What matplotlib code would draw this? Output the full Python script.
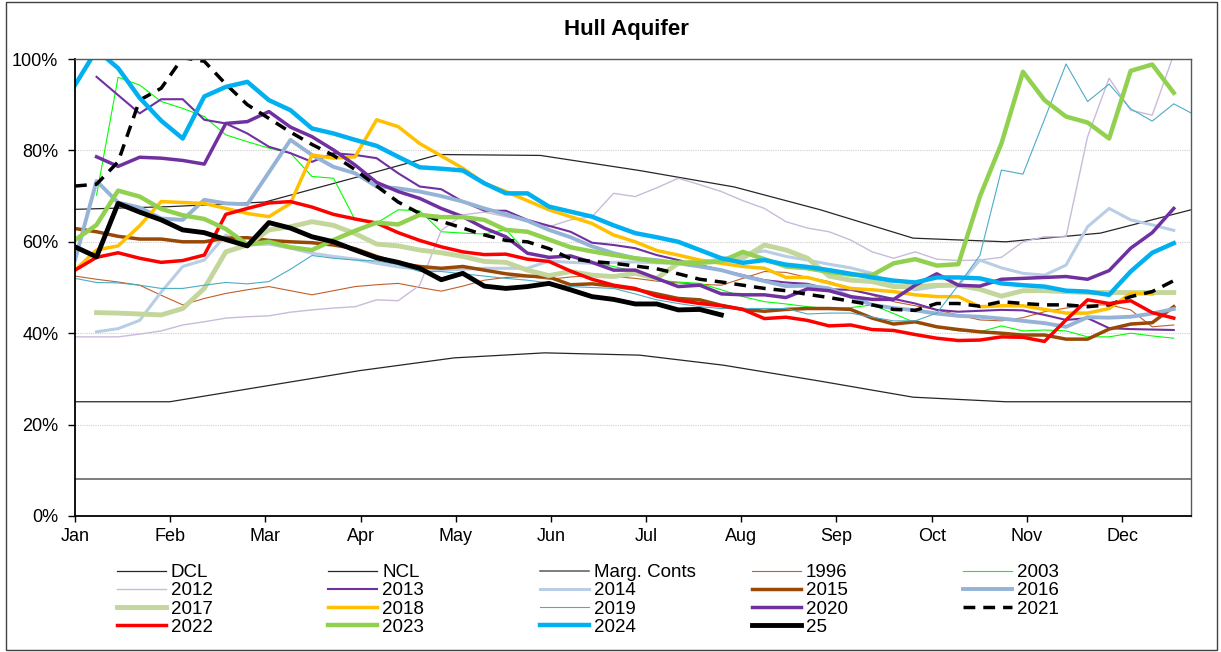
import numpy as np
import matplotlib.pyplot as plt

plt.rcParams['font.family'] = ['Liberation Sans', 'DejaVu Sans']

nan = np.nan

# x axis: weekly readings, month labels evenly spaced
months = ['Jan', 'Feb', 'Mar', 'Apr', 'May', 'Jun', 'Jul', 'Aug', 'Sep', 'Oct', 'Nov', 'Dec']
month_step = 4.418
x_end = 51.8

# control curves (week, %)
dcl_week = [0, 4.4, 8.8, 13.2, 17.6, 21.8, 26.2, 30.1, 34.6, 38.9, 43.2, 51.8]
dcl = [25, 25, 28.4, 31.8, 34.6, 35.7, 35.2, 33.0, 29.5, 26.0, 25.0, 25.0]
ncl_week = [0, 4.41, 8.82, 13.2, 16.9, 21.6, 26.2, 30.6, 34.6, 38.9, 43.2, 47.6, 51.8]
ncl = [67.1, 67.7, 68.7, 74.3, 79.1, 78.9, 75.6, 72.0, 67.0, 60.8, 60.0, 61.9, 67.0]
marg_week = [0, 51.8]
marg = [8.1, 8.1]

# yearly series, one value per week from week 0
y1996 = [52.5, 51.8, 51.2, 50.5, 48.3, 46.2, 47.6, 48.7, 49.5, 50.2,
         49.3, 48.4, 49.3, 50.2, 50.6, 50.9, 50.0, 49.2, 50.3, 51.6,
         52.2, 52.4, 51.8, 52.3, 52.6, 52.4, 52.0, 51.4, 51.0, 50.7,
         50.5, 52.0, 53.5, 53.3, 52.2, 51.3, 49.6, 48.3, 46.9, 46.0,
         45.1, 44.0, 42.9, 42.7, 43.4, 44.7, 45.5, 46.2, 46.2, 45.1,
         41.4, 41.8]
y2003 = [nan, 70.2, 96.0, 94.3, 90.7, 89.2, 87.4, 83.4, 81.9, 80.5,
         79.4, 74.3, 73.9, 64.8, 64.1, 67.0, 66.8, 62.2, 61.9, 61.7,
         62.7, 57.5, 56.4, 57.1, 55.5, 54.6, 53.5, 51.6, 51.2, 50.9,
         49.5, 48.0, 46.9, 46.4, 45.8, 45.4, 45.6, 46.2, 44.3, 42.3,
         41.3, 40.5, 40.3, 41.6, 40.5, 40.7, 40.5, 39.2, 39.2, 40.0,
         39.4, 38.9]
y2012 = [39.2, 39.2, 39.2, 39.8, 40.5, 41.8, 42.5, 43.3, 43.6, 43.8,
         44.6, 45.1, 45.5, 45.8, 47.3, 47.1, 50.5, 62.5, 65.9, 66.5,
         65.5, 64.5, 63.3, 64.8, 65.5, 70.6, 69.9, 71.8, 73.9, 72.5,
         71.0, 69.0, 67.3, 64.4, 63.0, 62.2, 60.4, 57.8, 56.4, 57.8,
         56.2, 55.9, 56.0, 56.6, 60.0, 61.1, 61.1, 83.0, 95.8, 88.8,
         87.7, 101.0]
y2013 = [nan, 96.1, 92.1, 88.1, 91.2, 91.2, 86.7, 85.9, 83.7, 80.8,
         79.4, 77.5, 79.4, 79.0, 78.3, 75.0, 72.1, 71.5, 68.8, 66.8,
         66.8, 64.8, 63.5, 62.2, 59.8, 59.3, 58.6, 57.1, 56.0, 54.9,
         53.8, 52.7, 51.6, 51.1, 50.8, 49.6, 49.5, 48.5, 47.5, 46.5,
         45.1, 44.7, 44.9, 45.1, 45.0, 44.0, 42.9, 43.3, 41.1, 40.9,
         40.8, 40.7]
y2014 = [nan, 40.3, 41.0, 42.8, 49.0, 54.6, 56.0, 61.5, 59.3, 59.5,
         58.6, 57.5, 56.8, 56.2, 55.3, 54.5, 54.0, 53.8, 54.0, 54.2,
         54.2, 54.2, 55.8, 55.5, 55.3, 55.5, 55.6, 55.4, 55.3, 55.5,
         56.3, 57.2, 58.0, 56.8, 56.0, 55.1, 54.3, 53.1, 50.5, 49.5,
         50.2, 50.5, 56.0, 54.3, 53.1, 52.7, 54.9, 63.3, 67.3, 64.8,
         63.7, 62.5]
y2015 = [62.9, 62.2, 61.2, 60.6, 60.6, 60.0, 60.0, 60.8, 60.9, 60.3,
         60.0, 59.8, 59.3, 58.5, 56.8, 55.3, 54.6, 54.2, 54.6, 53.8,
         53.0, 52.5, 52.3, 50.6, 50.8, 50.3, 49.6, 48.6, 47.6, 47.3,
         46.1, 45.2, 44.8, 45.2, 45.4, 45.4, 45.2, 43.3, 42.0, 42.5,
         41.4, 40.8, 40.3, 40.0, 39.6, 39.6, 38.7, 38.7, 40.9, 42.0,
         42.3, 45.8]
y2016 = [56.0, 73.3, 68.6, 67.5, 65.1, 64.8, 69.2, 68.4, 68.2, 75.2,
         82.3, 79.0, 76.4, 75.0, 72.1, 71.7, 71.0, 70.0, 68.8, 67.3,
         66.0, 64.6, 62.6, 61.0, 59.0, 57.5, 56.4, 56.0, 55.3, 54.6,
         53.8, 52.5, 51.4, 50.3, 50.4, 49.8, 48.0, 46.2, 45.5, 45.0,
         44.3, 43.8, 43.6, 43.2, 42.7, 42.2, 41.4, 43.5, 43.4, 43.6,
         44.3, 45.3]
y2017 = [nan, 44.5, 44.4, 44.2, 44.0, 45.4, 49.8, 57.8, 59.3, 62.6,
         63.3, 64.4, 63.6, 61.8, 59.5, 59.1, 58.2, 57.6, 56.8, 55.7,
         55.5, 53.8, 52.6, 53.5, 52.7, 52.4, 53.1, 52.0, 55.3, 55.7,
         55.7, 56.4, 59.3, 58.2, 56.4, 52.5, 51.6, 51.3, 50.2, 50.2,
         50.5, 50.5, 49.6, 48.1, 49.3, 49.3, 49.1, 48.9, 48.9, 48.9,
         48.9, 48.9]
y2018 = [53.8, 58.2, 59.1, 63.5, 68.8, 68.6, 68.4, 67.3, 66.2, 65.5,
         68.4, 79.0, 78.3, 78.6, 86.7, 85.2, 81.5, 78.8, 76.1, 72.8,
         71.0, 69.0, 67.0, 65.5, 64.0, 61.5, 60.0, 58.1, 57.1, 56.0,
         55.3, 54.6, 54.2, 52.2, 52.2, 51.0, 49.8, 49.5, 49.1, 48.4,
         48.0, 48.0, 45.8, 46.0, 46.0, 45.2, 44.4, 44.4, 45.4, 48.7,
         48.6]
y2019 = [52.0, 51.1, 51.0, 50.5, 49.8, 49.8, 50.5, 51.1, 50.8, 51.3,
         54.0, 57.0, 56.4, 56.0, 55.8, 55.0, 53.5, 53.5, 53.0, 52.5,
         52.0, 51.6, 51.0, 50.2, 50.0, 49.8, 48.6, 47.3, 46.5, 45.8,
         45.4, 45.4, 45.4, 45.4, 44.2, 44.4, 44.4, 43.5, 42.7, 42.7,
         44.4, 50.5, 57.0, 75.7, 74.8, 86.8, 98.9, 90.7, 94.5, 89.1,
         86.4, 90.2, 87.7]
y2020 = [nan, 78.6, 76.5, 78.5, 78.3, 77.8, 77.0, 85.9, 86.3, 88.5,
         85.1, 83.0, 80.1, 76.8, 73.0, 71.0, 69.5, 67.3, 65.5, 63.0,
         61.1, 57.5, 56.6, 56.9, 55.5, 53.8, 53.8, 52.0, 50.2, 50.5,
         48.6, 48.4, 48.4, 47.8, 49.7, 49.3, 48.0, 47.4, 47.4, 50.5,
         53.0, 50.5, 50.3, 51.8, 52.0, 52.2, 52.4, 51.8, 53.7, 58.6,
         62.0, 67.3]
y2021 = [72.2, 72.6, 77.5, 91.0, 93.6, 100.3, 99.5, 94.5, 90.0, 87.0,
         84.0, 81.3, 78.9, 75.8, 72.2, 68.7, 66.2, 64.5, 63.0, 61.5,
         60.3, 60.0, 58.5, 56.3, 55.7, 55.3, 54.7, 54.1, 53.0, 51.8,
         51.2, 50.5, 49.8, 49.3, 48.5, 47.8, 47.0, 46.2, 45.2, 45.0,
         46.5, 46.5, 45.9, 46.9, 46.5, 46.2, 46.2, 45.8, 46.2, 48.0,
         49.1, 51.5]
y2022 = [53.8, 56.6, 57.6, 56.4, 55.5, 55.9, 57.1, 66.0, 67.3, 68.5,
         68.8, 67.6, 66.0, 65.0, 64.1, 62.0, 60.3, 58.9, 57.8, 57.2,
         57.3, 56.2, 55.7, 53.6, 51.8, 50.5, 49.8, 48.1, 47.2, 46.5,
         46.0, 45.2, 43.2, 43.5, 42.8, 41.6, 41.8, 40.8, 40.6, 39.7,
         38.9, 38.4, 38.5, 39.2, 39.1, 38.2, 42.9, 47.3, 46.5, 47.1,
         44.5, 43.3]
y2023 = [60.4, 63.7, 71.2, 69.9, 67.2, 65.8, 65.0, 62.8, 59.4, 60.0,
         58.8, 58.2, 60.4, 62.4, 64.2, 63.8, 65.9, 65.4, 65.4, 64.8,
         62.6, 62.2, 60.5, 58.8, 57.9, 57.1, 56.4, 55.7, 55.4, 55.4,
         55.7, 57.8, 56.2, 54.6, 54.2, 53.4, 52.8, 52.7, 55.3, 56.2,
         54.8, 55.1, 69.9, 81.5, 97.2, 91.0, 87.4, 86.1, 82.6, 97.4,
         98.8, 92.6]
y2024 = [94.3, 102.0, 98.0, 91.5, 86.5, 82.6, 91.8, 93.9, 95.0, 91.0,
         88.8, 84.8, 83.7, 82.3, 81.0, 78.6, 76.3, 76.0, 75.6, 72.8,
         70.6, 70.6, 67.7, 66.6, 65.5, 63.6, 61.9, 61.0, 60.0, 58.2,
         56.4, 55.4, 56.0, 55.0, 54.5, 53.8, 53.0, 52.2, 51.5, 51.1,
         52.2, 52.2, 52.0, 50.9, 50.5, 50.2, 49.3, 49.1, 48.4, 53.5,
         57.6, 59.7]
y2025 = [58.9, 56.7, 68.4, 66.5, 64.8, 62.6, 62.0, 60.5, 59.1, 64.2,
         63.0, 61.1, 60.0, 58.2, 56.5, 55.5, 54.2, 51.7, 53.1, 50.3,
         49.8, 50.2, 50.9, 49.5, 48.0, 47.4, 46.4, 46.4, 45.1, 45.2,
         44.0]

# label, values, colour, width, style
series = [
    ('1996', y1996, '#C0602A', 0.8, '-'),
    ('2003', y2003, '#00FF00', 0.8, '-'),
    ('2012', y2012, '#C9BBDA', 1.0, '-'),
    ('2013', y2013, '#7030A0', 1.5, '-'),
    ('2014', y2014, '#B9CDE5', 2.2, '-'),
    ('2015', y2015, '#984807', 2.5, '-'),
    ('2016', y2016, '#95B3D7', 2.8, '-'),
    ('2017', y2017, '#C3D69B', 3.5, '-'),
    ('2018', y2018, '#FFC000', 2.5, '-'),
    ('2019', y2019, '#4BACC6', 0.8, '-'),
    ('2020', y2020, '#7030A0', 2.5, '-'),
    ('2021', y2021, 'black', 2.5, (0, (3.4, 2.3))),
    ('2022', y2022, '#FF0000', 2.5, '-'),
    ('2023', y2023, '#92D050', 3.2, '-'),
    ('2024', y2024, '#00B0F0', 3.2, '-'),
    ('25', y2025, 'black', 3.5, '-'),
]

W, H = 1221, 652
fig = plt.figure(figsize=(W / 100, H / 100), dpi=100)
ax = fig.add_axes([75 / W, 1 - 516 / H, (1191 - 75) / W, (516 - 59) / H])

handles = []
h, = ax.plot(dcl_week, dcl, color='#262626', lw=0.9, label='DCL')
handles.append(h)
h, = ax.plot(ncl_week, ncl, color='#262626', lw=0.9, label='NCL')
handles.append(h)
h, = ax.plot(marg_week, marg, color='#595959', lw=1.1, label='Marg. Conts')
handles.append(h)

for label, vals, color, lw, ls in series:
    x = np.arange(len(vals))
    h, = ax.plot(x, vals, color=color, lw=lw, ls=ls, label=label,
                 solid_joinstyle='round', dash_capstyle='butt')
    handles.append(h)

ax.set_xlim(0, x_end)
ax.set_ylim(0, 100)
ax.set_xticks(np.arange(12) * month_step)
ax.set_xticklabels(months)
ax.set_yticks(range(0, 101, 20))
ax.set_yticklabels([f'{v}%' for v in range(0, 101, 20)])
ax.tick_params(axis='y', direction='out', length=5, width=1, labelsize=13, pad=7)
ax.tick_params(axis='x', direction='out', length=4.5, width=1, labelsize=13, pad=4)
ax.yaxis.grid(True, color='#D0D0D0', ls=(0, (1, 1)), lw=0.8)
ax.set_axisbelow(True)
for side in ['left', 'bottom']:
    ax.spines[side].set_color('black')
    ax.spines[side].set_linewidth(1.3)
for side in ['top', 'right']:
    ax.spines[side].set_color('#595959')
    ax.spines[side].set_linewidth(1.0)

fig.text(626 / W, 1 - 30 / H, 'Hull Aquifer', ha='center', va='center',
         fontsize=16, fontweight='bold')

# legend, laid out row by row in five columns
col_x = [117, 328, 540, 752, 963]
for c in range(5):
    hs = handles[c::5]
    fig.legend(hs, [hh.get_label() for hh in hs], loc='upper left',
               bbox_to_anchor=(col_x[c] / W, 1 - 564 / H), frameon=False,
               fontsize=13.5, handlelength=2.6, handletextpad=0.28,
               labelspacing=0.06, borderpad=0, borderaxespad=0)

fig.add_artist(plt.Rectangle((6 / W, 2 / H), 1211 / W, 648 / H,
                             transform=fig.transFigure, fill=False,
                             edgecolor='#404040', lw=1))

fig.savefig('out.png', dpi=100)
